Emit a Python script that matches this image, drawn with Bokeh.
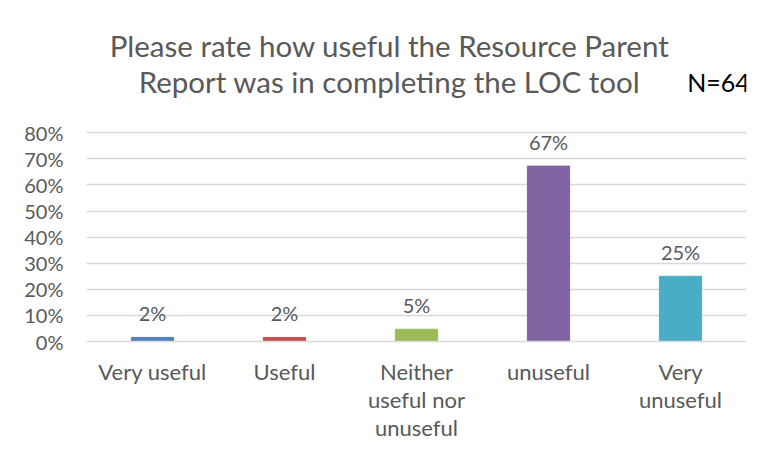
from bokeh.plotting import figure
from bokeh.models import ColumnDataSource, LabelSet, Label, FactorRange, Range1d, FixedTicker, NumeralTickFormatter
from bokeh.core.properties import value
from bokeh.embed import file_html
from bokeh.resources import INLINE

categories = ["Very useful", "Useful", "Neither\nuseful nor\nunuseful", "unuseful", "Very\nunuseful"]
values = [0.0156, 0.0156, 0.0469, 0.672, 0.25]
value_labels = ["2%", "2%", "5%", "67%", "25%"]
colors = ["#4F81BD", "#C0504D", "#9BBB59", "#8064A2", "#4BACC6"]
title_lines = ["Please rate how useful the Resource Parent", "Report was in completing the LOC tool"]
n_text = "N=64"
y_ticks = [0.0, 0.1, 0.2, 0.3, 0.4, 0.5, 0.6, 0.7, 0.8]

FONT = "Lato"
GREY = "#595959"

src = ColumnDataSource(dict(cat=categories, val=values, lab=value_labels, col=colors))

# the y range extends above 80% to leave room for the title inside the frame
p = figure(width=757, height=450, x_range=FactorRange(*categories), y_range=Range1d(0, 1.23),
           output_backend="svg", toolbar_location=None,
           min_border_left=86, min_border_right=11, min_border_top=20, min_border_bottom=109)
p.outline_line_color = None
p.background_fill_color = "white"
p.border_fill_color = "white"

p.vbar(x="cat", top="val", width=0.32, color="col", source=src)

# y axis
p.yaxis.ticker = FixedTicker(ticks=y_ticks)
p.yaxis.formatter = NumeralTickFormatter(format="0%")
p.yaxis.axis_line_color = None
p.yaxis.major_tick_line_color = None
p.yaxis.minor_tick_line_color = None
p.yaxis.major_label_standoff = 17
p.yaxis.major_label_text_font = FONT
p.yaxis.major_label_text_font_size = "20px"
p.yaxis.major_label_text_color = GREY

# x axis
p.xaxis.axis_line_color = "#D9D9D9"
p.xaxis.axis_line_width = 1.5
p.xaxis.major_tick_line_color = None
p.xaxis.minor_tick_line_color = None
p.xaxis.major_label_standoff = 10
p.xaxis.major_label_text_font = FONT
p.xaxis.major_label_text_font_size = "22px"
p.xaxis.major_label_text_color = GREY
p.xaxis.major_label_text_line_height = 1.05

p.xgrid.grid_line_color = None
p.ygrid.grid_line_color = "#D9D9D9"
p.ygrid.grid_line_width = 1.5

labels = LabelSet(x="cat", y="val", text="lab", source=src, y_offset=24,
                  text_align="center", text_baseline="middle",
                  text_font=value(FONT), text_font_size=value("20px"), text_color=value(GREY))
p.add_layout(labels)

title_y = [1.133, 0.995]
for line, ty in zip(title_lines, title_y):
    p.add_layout(Label(x=303, y=ty, x_units="screen", y_units="data", text=line,
                       text_align="center", text_baseline="middle",
                       text_font=FONT, text_font_size="29.5px", text_color=GREY))

p.add_layout(Label(x=632, y=0.995, x_units="screen", y_units="data", text=n_text,
                   text_align="center", text_baseline="middle",
                   text_font=FONT, text_font_size="25px", text_color="#000000"))

open("out.html", "w").write(file_html(p, INLINE))
